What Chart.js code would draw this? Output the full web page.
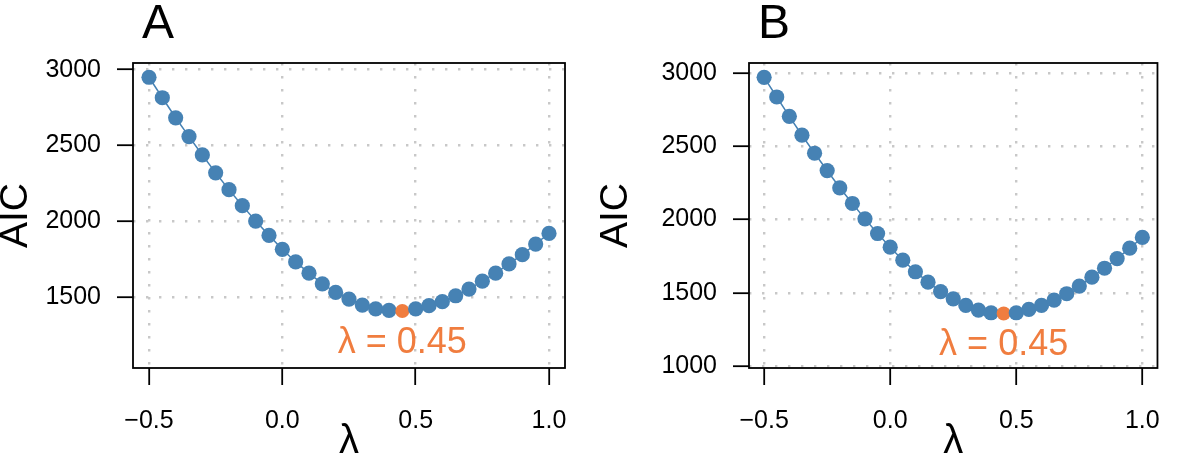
<!DOCTYPE html>
<html>
<head>
<meta charset="utf-8">
<script src="https://cdn.jsdelivr.net/npm/chart.js@4/dist/chart.umd.min.js"></script>
<style>
  html, body { margin: 0; padding: 0; background: #fff; }
  #wrap { position: relative; width: 1181px; height: 457px; overflow: hidden; }
  .panel { position: absolute; top: 0; height: 457px; }
</style>
</head>
<body>
<div id="wrap">
  <div class="panel" style="left:0;width:590px"><canvas id="chartA"></canvas></div>
  <div class="panel" style="left:600px;width:581px"><canvas id="chartB"></canvas></div>
</div>
<script>
// lambda grid of the Box-Cox search
var lambdas = [-0.5, -0.45, -0.4, -0.35, -0.3, -0.25, -0.2, -0.15, -0.1, -0.05,
               0.0, 0.05, 0.1, 0.15, 0.2, 0.25, 0.3, 0.35, 0.4, 0.45,
               0.5, 0.55, 0.6, 0.65, 0.7, 0.75, 0.8, 0.85, 0.9, 0.95, 1.0];

var aicA = [2950, 2815, 2683, 2559, 2438, 2320, 2209, 2104, 2002, 1908,
            1816, 1733, 1659, 1589, 1532, 1488, 1449, 1423, 1414, 1410,
            1423, 1445, 1471, 1510, 1554, 1606, 1659, 1720, 1781, 1851, 1921];

var aicB = [2970, 2836, 2704, 2575, 2452, 2334, 2216, 2109, 2004, 1904,
            1811, 1722, 1643, 1572, 1508, 1458, 1413, 1381, 1363, 1358,
            1363, 1386, 1413, 1449, 1493, 1545, 1606, 1667, 1733, 1804, 1877];

var bestLambda = 0.45;

var xTicks = [-0.5, 0, 0.5, 1.0];
var xTickLabels = ['\u22120.5', '0.0', '0.5', '1.0'];
var yTicksA = [1500, 2000, 2500, 3000];
var yTicksB = [1000, 1500, 2000, 2500, 3000];

var BLUE = '#4682B4';
var ORANGE = '#F07D3F';
var FONT = "'Liberation Sans', Arial, Helvetica, sans-serif";

// box around plot, panel letter and the lambda label
var framePlugin = {
    id: 'frame',
    afterDraw: function(chart, args, opts) {
        var ctx = chart.ctx;
        var a = chart.chartArea;
        ctx.save();
        ctx.strokeStyle = '#000';
        ctx.lineWidth = 1.8;
        ctx.strokeRect(a.left, a.top, a.right - a.left, a.bottom - a.top);

        ctx.fillStyle = '#000';
        ctx.font = '48px ' + FONT;
        ctx.textAlign = 'left';
        ctx.textBaseline = 'alphabetic';
        ctx.fillText(opts.letter, a.left + 9, 38);

        var data = chart.data.datasets[0].data;
        var best = data.find(function(d) { return d.x === bestLambda; });
        var px = chart.scales.x.getPixelForValue(best.x);
        var py = chart.scales.y.getPixelForValue(best.y);
        ctx.fillStyle = ORANGE;
        ctx.font = '36px ' + FONT;
        ctx.textAlign = 'center';
        ctx.textBaseline = 'middle';
        ctx.fillText('\u03BB = ' + bestLambda.toFixed(2), px, py + 32);
        ctx.restore();
    }
};

function makeChart(id, letter, aic, yTicks, yMin, yMax, yWidth, padRight) {
    var ctx = document.getElementById(id).getContext('2d');
    return new Chart(ctx, {
        type: 'scatter',
        data: {
            datasets: [{
                data: lambdas.map(function(l, i) { return { x: l, y: aic[i] }; }),
                showLine: true,
                borderColor: BLUE,
                borderWidth: 1.5,
                pointRadius: function(c) { return lambdas[c.dataIndex] === bestLambda ? 7.0 : 7.6; },
                pointBackgroundColor: function(c) { return lambdas[c.dataIndex] === bestLambda ? ORANGE : BLUE; },
                pointBorderWidth: 0
            }]
        },
        options: {
            responsive: true,
            maintainAspectRatio: false,
            animation: false,
            devicePixelRatio: 1,
            layout: { padding: { left: 0, right: padRight, top: 63, bottom: 0 } },
            plugins: {
                legend: { display: false },
                tooltip: { enabled: false },
                frame: { letter: letter }
            },
            scales: {
                x: {
                    type: 'linear',
                    min: -0.56,
                    max: 1.06,
                    afterBuildTicks: function(axis) {
                        axis.ticks = xTicks.map(function(v) { return { value: v }; });
                    },
                    afterFit: function(axis) { axis.height = 89; },
                    ticks: {
                        autoSkip: false,
                        maxRotation: 0,
                        padding: 21,
                        color: '#000',
                        font: { family: FONT, size: 25 },
                        callback: function(v, i) { return xTickLabels[i]; }
                    },
                    grid: {
                        color: '#c8c8c8',
                        lineWidth: 2.4,
                        tickLength: 17,
                        tickColor: '#000',
                        tickWidth: 1.8
                    },
                    border: { display: false, dash: [2.4, 10.6] },
                    title: {
                        display: true,
                        text: '\u03BB',
                        color: '#000',
                        font: { family: FONT, size: 40, lineHeight: 0.74 },
                        padding: 0
                    }
                },
                y: {
                    min: yMin,
                    max: yMax,
                    afterBuildTicks: function(axis) {
                        axis.ticks = yTicks.map(function(v) { return { value: v }; });
                    },
                    afterFit: function(axis) { axis.width = yWidth; },
                    ticks: {
                        padding: 16,
                        color: '#000',
                        font: { family: FONT, size: 25 },
                        callback: function(v) { return String(v); }
                    },
                    grid: {
                        color: '#c8c8c8',
                        lineWidth: 2.4,
                        tickLength: 16,
                        tickColor: '#000',
                        tickWidth: 1.8
                    },
                    border: { display: false, dash: [2.4, 10.6] },
                    title: {
                        display: true,
                        text: 'AIC',
                        color: '#000',
                        font: { family: FONT, size: 39, lineHeight: 0.82 },
                        padding: 0
                    }
                }
            }
        },
        plugins: [framePlugin]
    });
}

var chartA = makeChart('chartA', 'A', aicA, yTicksA, 1034, 3044, 133, 25);
var chartB = makeChart('chartB', 'B', aicB, yTicksB, 986, 3068, 149, 1.7);
</script>
</body>
</html>
